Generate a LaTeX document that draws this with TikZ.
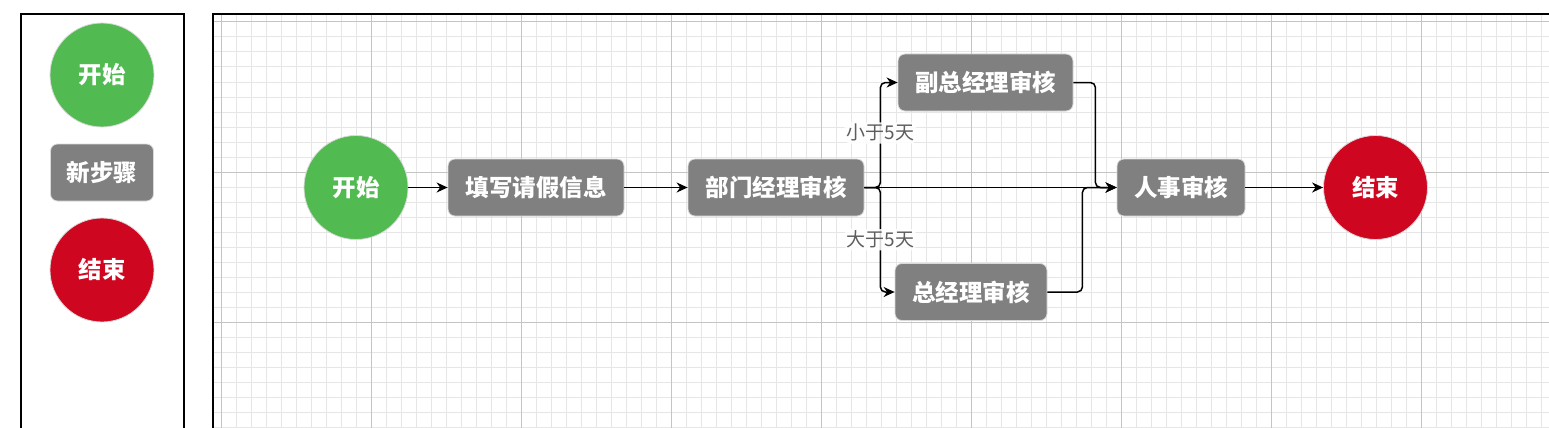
\documentclass[tikz,border=0pt]{standalone}
\usepackage{fontspec}
\setmainfont{Noto Sans CJK SC}
\newfontfamily\stepfont{Noto Sans CJK SC}
\usetikzlibrary{arrows.meta,positioning}
\definecolor{startgreen}{HTML}{51BA51}
\definecolor{endred}{HTML}{CE0620}
\definecolor{stepgray}{HTML}{808080}
\definecolor{rimgray}{HTML}{D9D9D9}
\definecolor{minorgrid}{HTML}{E6E6E6}
\definecolor{majorgrid}{HTML}{C4C4C4}
\definecolor{labelgray}{HTML}{5E5E5E}
\tikzset{
  stepfont/.style={font=\stepfont\bfseries\fontsize{23.5}{24}\selectfont},
  startnode/.style={circle,fill=startgreen,draw=rimgray,line width=0.8pt,
    minimum size=104pt,inner sep=0pt,text=white,stepfont},
  endnode/.style={startnode,fill=endred},
  stepbox/.style={rectangle,rounded corners=7pt,fill=stepgray,draw=rimgray,
    line width=0.8pt,minimum height=57pt,inner sep=0pt,text=white,stepfont},
  flow/.style={line width=1.5pt,rounded corners=5pt,
    -{Stealth[length=11pt,width=10pt,inset=3.5pt]}},
  cond/.style={fill=white,fill opacity=0.85,text opacity=1,text=labelgray,
    inner sep=2pt,font=\fontsize{19}{19}\selectfont}
}

\begin{document}
\begin{tikzpicture}[x=1pt,y=-1pt]
  \clip (0,0) rectangle (1549,428);
  % grid of the canvas
  \foreach \k in {0,...,88} \draw[minorgrid,line width=1pt] ({221+15*\k},14) -- ({221+15*\k},428);
  \foreach \k in {0,...,27} \draw[minorgrid,line width=1pt] (213,{22+15*\k}) -- (1549,{22+15*\k});
  \foreach \k in {0,...,8} \draw[majorgrid,line width=1pt] ({221+150*\k},14) -- ({221+150*\k},428);
  \foreach \k in {0,...,2} \draw[majorgrid,line width=1pt] (213,{22+150*\k}) -- (1549,{22+150*\k});
  % panels
  \draw[line width=1.5pt] (21,440) |- (184,14) -- (184,440);
  \draw[line width=1.5pt] (213,440) |- (1560,14);

  % legend
  \node (lstart) at (102,75) [startnode] {开始};
  \node (lstep) at (102,172.5) [stepbox,minimum width=103pt] {新步骤};
  \node (lend) at (102,270) [endnode] {结束};

  % flow
  \node (start) at (356,187.5) [startnode] {开始};
  \node (fill) at (536,187.5) [stepbox,minimum width=176pt] {填写请假信息};
  \node (dept) at (776,187.5) [stepbox,minimum width=176pt] {部门经理审核};
  \node (vice) at (985.5,82.5) [stepbox,minimum width=175pt] {副总经理审核};
  \node (gm) at (971,292) [stepbox,minimum width=152pt] {总经理审核};
  \node (hr) at (1181,187.5) [stepbox,minimum width=128pt] {人事审核};
  \node (end) at (1375.5,187.5) [endnode] {结束};

  \coordinate (split) at ([xshift=16pt]dept.east);
  \coordinate (vicejoin) at ([xshift=22pt]vice.east);
  \coordinate (gmjoin) at ([xshift=35pt]gm.east);

  \draw[flow] (start) -- (fill);
  \draw[flow] (fill) -- (dept);
  \draw[flow] (dept) -- (hr);
  \draw[flow] (dept.east) -- (split) |- node[cond,pos=0.26] {小于5天} (vice.west);
  \draw[flow] (dept.east) -- (split) |- node[cond,pos=0.25] {大于5天} (gm.west);
  \draw[flow] (vice.east) -- (vicejoin) |- (hr.west);
  \draw[flow] (gm.east) -- (gmjoin) |- (hr.west);
  \draw[flow] (hr) -- (end);
\end{tikzpicture}
\end{document}
